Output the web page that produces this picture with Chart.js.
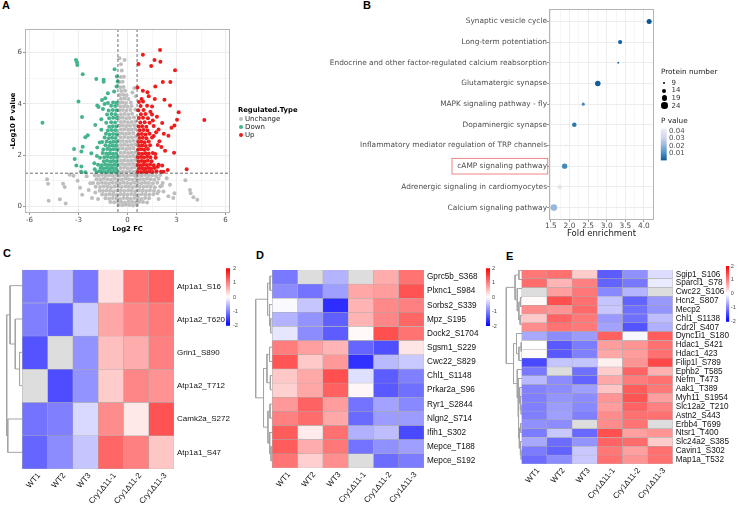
<!DOCTYPE html>
<html>
<head>
<meta charset="utf-8">
<title>Figure</title>
<script src="https://cdn.jsdelivr.net/npm/chart.js@4.4.1/dist/chart.umd.min.js"></script>
<style>
html,body{margin:0;padding:0;background:#fff;}
#fig{position:relative;width:738px;height:506px;overflow:hidden;background:#fff;}
#fig canvas{position:absolute;}
.tx{position:absolute;white-space:nowrap;font-family:"DejaVu Sans",sans-serif;}
.panel{position:absolute;font-family:"Liberation Sans",Arial,sans-serif;font-weight:bold;font-size:11px;line-height:11px;color:#000;}
.dot{position:absolute;border-radius:50%;}
</style>
</head>
<body>
<div id="fig">
  <div class="panel" style="left:2px;top:0px">A</div>
  <div class="panel" style="left:363px;top:0px">B</div>
  <div class="panel" style="left:3px;top:248px">C</div>
  <div class="panel" style="left:256px;top:250px">D</div>
  <div class="panel" style="left:506px;top:251px">E</div>
  <canvas id="cA" width="240" height="238" style="left:0px;top:0px"></canvas>
  <canvas id="cB" width="400" height="240" style="left:270px;top:0px"></canvas>
  <canvas id="cBbar" width="40" height="45" style="left:655px;top:122px"></canvas>
  <canvas id="cC" width="250" height="244" style="left:0px;top:262px"></canvas>
  <canvas id="cCbar" width="30" height="70" style="left:220px;top:262px"></canvas>
  <canvas id="cD" width="240" height="244" style="left:250px;top:262px"></canvas>
  <canvas id="cDbar" width="30" height="70" style="left:480px;top:262px"></canvas>
  <canvas id="cE" width="248" height="244" style="left:490px;top:262px"></canvas>
  <canvas id="cEbar" width="18" height="68" style="left:720px;top:260px"></canvas>
</div>
<script>
// ================= DATA =================
// Panel A: volcano plot (log2 FC, -log10 P)
const volcanoUp = [
[0.64,1.35],[0.82,1.35],[1.00,1.36],[1.18,1.35],[1.36,1.37],[1.55,1.35],[1.78,1.38],[2.05,1.36],
[0.70,1.48],[0.90,1.49],[1.08,1.47],[1.27,1.50],[1.45,1.48],[1.66,1.50],
[0.63,1.62],[0.80,1.61],[0.98,1.63],[1.17,1.62],[1.38,1.64],[1.60,1.61],[1.90,1.63],
[0.68,1.77],[0.87,1.78],[1.05,1.76],[1.24,1.79],[1.47,1.77],
[0.64,1.92],[0.83,1.93],[1.01,1.91],[1.20,1.94],[1.40,1.92],[1.72,1.90],
[0.70,2.07],[0.90,2.06],[1.10,2.08],[1.30,2.07],[1.55,2.09],
[0.65,2.22],[0.84,2.23],[1.03,2.21],[1.25,2.24],
[0.72,2.37],[0.92,2.38],[1.12,2.36],[1.38,2.39],[1.85,2.40],
[0.66,2.52],[0.85,2.53],[1.05,2.51],[1.30,2.54],
[0.73,2.67],[0.94,2.68],[1.16,2.66],[1.50,2.69],
[0.67,2.82],[0.88,2.83],[1.10,2.81],[1.35,2.84],
[0.75,2.97],[0.98,2.98],[1.22,2.96],
[0.68,3.12],[0.90,3.13],[1.15,3.11],[1.60,3.14],
[0.78,3.28],[1.05,3.29],[1.35,3.27],
[0.70,3.45],[0.95,3.46],[1.25,3.44],
[0.82,3.60],[1.10,3.61],[1.50,3.59],
[0.66,3.75],[0.98,3.76],
[0.80,3.92],[1.20,3.93],
[0.70,4.08],[0.95,4.09],
[1.50,3.90],[1.30,4.30],[1.80,3.50],[1.75,2.90],[1.95,2.55],[1.70,2.05],[1.60,2.75],[1.40,3.70],[1.90,3.00],[1.85,1.55],[1.55,3.35],
[1.99,6.10],[0.94,5.92],[1.65,5.71],[2.01,5.64],[0.67,5.56],[1.45,5.48],[2.91,5.31],[2.16,4.85],[2.62,4.85],[1.70,4.68],
[0.61,4.64],[0.94,4.51],[1.22,4.46],[1.67,4.19],[2.26,4.16],[0.86,4.19],[2.60,3.94],[3.13,3.68],[4.70,3.37],[3.03,3.38],
[2.87,3.16],[2.69,3.07],[2.12,3.26],[2.22,2.84],[2.50,2.76],[2.07,2.32],[2.30,2.18],[2.85,2.10],[2.12,1.60],[3.62,1.45],
[2.46,1.43],[2.20,1.36]
];
const volcanoDown = [
[-0.64,1.35],[-0.82,1.36],[-1.00,1.35],[-1.18,1.37],[-1.36,1.35],[-1.55,1.36],[-1.72,1.38],[-1.90,1.35],
[-0.70,1.48],[-0.90,1.49],[-1.08,1.47],[-1.27,1.50],[-1.46,1.48],[-1.65,1.50],
[-0.63,1.62],[-0.80,1.63],[-0.98,1.61],[-1.17,1.62],[-1.37,1.64],[-1.58,1.61],[-1.80,1.63],
[-0.68,1.77],[-0.87,1.78],[-1.05,1.76],[-1.25,1.79],[-1.45,1.77],
[-0.64,1.92],[-0.83,1.93],[-1.01,1.91],[-1.21,1.94],[-1.42,1.92],[-1.68,1.90],
[-0.70,2.07],[-0.90,2.06],[-1.10,2.08],[-1.30,2.07],[-1.52,2.09],
[-0.65,2.22],[-0.84,2.23],[-1.03,2.21],[-1.24,2.24],[-1.48,2.22],
[-0.72,2.37],[-0.92,2.38],[-1.12,2.36],[-1.35,2.39],
[-0.66,2.52],[-0.86,2.53],[-1.06,2.51],[-1.28,2.54],[-1.55,2.52],
[-0.73,2.67],[-0.94,2.68],[-1.15,2.66],[-1.40,2.69],
[-0.67,2.82],[-0.88,2.83],[-1.10,2.81],[-1.32,2.84],
[-0.75,2.97],[-0.97,2.98],[-1.20,2.96],[-1.60,2.99],
[-0.68,3.12],[-0.90,3.13],[-1.12,3.11],
[-0.76,3.28],[-1.00,3.29],[-1.30,3.27],
[-0.66,3.45],[-0.88,3.46],[-1.12,3.44],
[-0.74,3.60],[-0.98,3.61],[-1.25,3.59],
[-0.67,3.75],[-0.90,3.76],[-1.15,3.74],
[-0.75,3.92],[-1.00,3.93],
[-0.66,4.05],[-0.88,4.06],[-1.20,4.04],
[-0.65,5.07],[-0.60,4.87],[-0.67,4.68],[-0.82,4.48],[-1.20,4.42],[-1.36,4.22],[-1.56,4.15],[-1.77,3.88],[-1.97,3.18],
[-1.60,3.40],[-1.50,3.80],[-1.70,2.50],[-1.85,2.30],[-2.00,1.45],[-1.40,4.00],
[-5.20,3.27],[-3.15,5.71],[-3.09,5.62],[-3.07,5.52],[-2.74,5.16],[-3.00,4.09],[-2.78,3.49],[-1.91,4.97],[-1.46,4.94],
[-1.46,4.86],[-1.85,3.94],[-0.79,5.35],[-2.58,2.70],[-2.43,2.78],[-3.27,2.24],[-2.74,2.33],[-2.82,2.15],[-3.23,1.85],
[-3.13,1.60],[-2.82,1.56],[-2.84,1.36],[-2.58,1.34],[-2.21,2.08],[-2.03,1.69],[-1.87,1.97]
];
const volcanoUnchanged = [
[-0.50,1.35],[-0.29,1.36],[-0.08,1.35],[0.14,1.37],[0.35,1.35],[0.52,1.36],
[-0.42,1.50],[-0.20,1.51],[0.02,1.49],[0.24,1.50],[0.45,1.52],
[-0.51,1.65],[-0.30,1.66],[-0.09,1.64],[0.13,1.65],[0.34,1.66],[0.52,1.64],
[-0.40,1.80],[-0.19,1.81],[0.03,1.79],[0.25,1.80],[0.46,1.82],
[-0.50,1.95],[-0.28,1.96],[-0.07,1.94],[0.15,1.95],[0.36,1.97],[0.53,1.93],
[-0.41,2.10],[-0.18,2.11],[0.04,2.09],[0.26,2.10],[0.48,2.12],
[-0.52,2.25],[-0.30,2.26],[-0.08,2.24],[0.14,2.25],[0.37,2.27],
[-0.40,2.40],[-0.20,2.41],[0.03,2.39],[0.25,2.40],[0.47,2.42],
[-0.50,2.55],[-0.29,2.56],[-0.07,2.54],[0.15,2.55],[0.38,2.57],
[-0.42,2.70],[-0.19,2.71],[0.04,2.69],[0.27,2.70],[0.50,2.72],
[-0.51,2.85],[-0.30,2.86],[-0.09,2.84],[0.13,2.85],[0.36,2.87],
[-0.40,3.00],[-0.18,3.01],[0.04,2.99],[0.24,3.00],[0.46,3.02],
[-0.50,3.15],[-0.29,3.16],[-0.07,3.14],[0.15,3.15],[0.40,3.17],
[-0.41,3.30],[-0.20,3.31],[0.03,3.29],[0.26,3.30],[0.50,3.32],
[-0.50,3.45],[-0.30,3.46],[-0.08,3.44],[0.14,3.45],[0.40,3.47],
[-0.40,3.60],[-0.18,3.61],[0.05,3.59],[0.28,3.62],
[-0.50,3.75],[-0.29,3.76],[-0.07,3.74],[0.18,3.76],[0.48,3.78],
[-0.42,3.90],[-0.20,3.91],[0.02,3.89],[0.25,3.92],
[-0.50,4.05],[-0.30,4.06],[-0.09,4.04],[0.20,4.06],
[-0.40,4.20],[-0.18,4.21],[0.05,4.19],[0.50,4.30],
[-0.48,4.35],[-0.27,4.36],[-0.06,4.34],[0.30,4.45],
[-0.38,4.50],[-0.15,4.51],[0.42,4.62],
[-0.45,4.65],[-0.24,4.66],
[-0.50,4.85],[-0.30,4.86],
[-0.42,5.05],[-0.22,5.06],
[-0.35,5.30],[-0.40,5.55],[-0.49,5.78],[-0.18,5.71],
[-2.00,1.22],[-1.78,1.20],[-1.56,1.23],[-1.34,1.21],[-1.12,1.22],[-0.90,1.20],[-0.68,1.23],[-0.46,1.21],[-0.24,1.22],[-0.02,1.20],
[0.20,1.23],[0.42,1.21],[0.64,1.22],[0.86,1.20],[1.08,1.23],[1.30,1.21],[1.52,1.22],[1.75,1.19],[2.00,1.23],
[-1.90,1.07],[-1.67,1.06],[-1.45,1.08],[-1.23,1.07],[-1.01,1.05],[-0.79,1.08],[-0.57,1.07],[-0.35,1.06],[-0.13,1.08],
[0.09,1.07],[0.31,1.05],[0.53,1.08],[0.75,1.07],[0.97,1.06],[1.19,1.08],[1.41,1.07],[1.64,1.05],[1.90,1.08],
[-2.10,0.92],[-1.80,0.91],[-1.56,0.93],[-1.34,0.92],[-1.12,0.90],[-0.90,0.93],[-0.68,0.92],[-0.46,0.91],[-0.24,0.93],[-0.02,0.92],
[0.20,0.90],[0.42,0.93],[0.64,0.92],[0.86,0.91],[1.08,0.93],[1.30,0.92],[1.55,0.90],[1.82,0.93],[2.15,0.92],
[-1.95,0.77],[-1.68,0.76],[-1.45,0.78],[-1.23,0.77],[-1.01,0.75],[-0.79,0.78],[-0.57,0.77],[-0.35,0.76],[-0.13,0.78],
[0.09,0.77],[0.31,0.75],[0.53,0.78],[0.75,0.77],[0.97,0.76],[1.19,0.78],[1.42,0.77],[1.68,0.75],[2.00,0.78],
[-1.70,0.62],[-1.50,0.61],[-1.28,0.63],[-1.06,0.62],[-0.84,0.60],[-0.62,0.63],[-0.40,0.62],[-0.18,0.61],[0.04,0.63],
[0.26,0.62],[0.48,0.60],[0.70,0.63],[0.92,0.62],[1.14,0.61],[1.37,0.63],[1.62,0.62],[1.90,0.60],
[-1.55,0.47],[-1.32,0.46],[-1.10,0.48],[-0.88,0.47],[-0.66,0.45],[-0.44,0.48],[-0.22,0.47],[0.00,0.46],
[0.22,0.48],[0.44,0.47],[0.66,0.45],[0.88,0.48],[1.10,0.47],[1.33,0.46],[1.58,0.48],
[-1.35,0.32],[-1.12,0.31],[-0.90,0.33],[-0.68,0.32],[-0.46,0.30],[-0.24,0.33],[-0.02,0.32],
[0.20,0.31],[0.42,0.33],[0.64,0.32],[0.86,0.30],[1.08,0.33],[1.32,0.32],
[-1.05,0.18],[-0.82,0.17],[-0.60,0.19],[-0.38,0.18],[-0.16,0.16],[0.06,0.19],[0.28,0.18],[0.50,0.17],[0.72,0.19],[0.95,0.18],[1.20,0.16],
[-0.55,0.06],[-0.32,0.05],[-0.10,0.07],[0.12,0.06],[0.34,0.04],[0.58,0.07],
[-4.92,1.07],[-4.86,0.89],[-4.82,0.23],[-3.94,0.89],[-3.84,0.76],[-4.14,0.29],[-3.78,0.12],[-3.30,1.20],[-3.54,1.24],
[-3.05,1.01],[-2.90,0.73],[-2.77,0.46],[-2.28,0.91],[-2.37,0.65],[-2.17,0.33],[-1.97,0.55],[-2.50,1.18],[-1.80,0.30],
[3.54,1.03],[3.82,0.65],[3.86,0.52],[4.03,0.36],[4.27,0.27],[2.87,0.52],[2.80,0.33],[2.60,0.85],[2.10,0.81],[2.20,0.59],
[1.83,0.52],[2.40,1.10],[2.50,0.40],[1.90,0.30]
];
const fcCut = 0.585;          // |log2 FC| threshold
const pCut = 1.301;           // -log10(0.05)
const volcanoXTicks = [-6, -3, 0, 3, 6];
const volcanoXMinor = [-4.5, -1.5, 1.5, 4.5];
const volcanoYTicks = [0, 2, 4, 6];
const volcanoYMinor = [1, 3, 5];
const regulationTypes = ['Unchange', 'Down', 'Up'];

// Panel B: KEGG enrichment
const pathways = ['Synaptic vesicle cycle','Long-term potentiation','Endocrine and other factor-regulated calcium reabsorption',
  'Glutamatergic synapse','MAPK signaling pathway - fly','Dopaminergic synapse','Inflammatory mediator regulation of TRP channels',
  'cAMP signaling pathway','Adrenergic signaling in cardiomyocytes','Calcium signaling pathway'];
const foldEnrichment = [4.14, 3.36, 3.31, 2.76, 2.37, 2.13, 1.91, 1.87, 1.74, 1.58];
const proteinNumber  = [17, 14, 9, 19, 11, 15, 10, 18, 15, 24];
const pValue = [0.0003, 0.0025, 0.0045, 0.0015, 0.009, 0.006, 0.0436, 0.009, 0.039, 0.021];
const foldTicks = [1.5, 2.0, 2.5, 3.0, 3.5, 4.0];
const foldMinor = [1.75, 2.25, 2.75, 3.25, 3.75, 4.25];
const sizeLegend = [9, 14, 19, 24];
const pTicks = [0.01, 0.02, 0.03, 0.04];
const highlightPathway = 'cAMP signaling pathway';

// Panels C-E: heatmaps (row z-scores, null = missing)
const samples = ['WT1','WT2','WT3','Cry1Δ11-1','Cry1Δ11-2','Cry1Δ11-3'];
const heatTicks = [2, 1, 0, -1, -2];

const rowsC = ['Atp1a1_S16','Atp1a2_T620','Grin1_S890','Atp1a2_T712','Camk2a_S272','Atp1a1_S47'];
const valsC = [
 [-1.0,-0.5,-1.05,0.25,1.1,1.25],
 [-1.0,-1.25,-0.4,0.7,0.95,1.05],
 [-1.35,null,-0.85,0.5,0.65,1.0],
 [null,-1.4,-0.85,0.4,0.95,0.85],
 [-1.1,-1.0,-0.3,0.9,0.18,1.35],
 [-1.2,-0.9,-0.45,1.2,1.0,0.45]
];
const mergesC = [[2,3,0.16],[1,'m0',0.44],[0,'m1',0.78],[4,5,0.93],['m2','m3',1.0]];

const rowsD = ['Gprc5b_S368','Plxnc1_S984','Sorbs2_S339','Mpz_S195','Dock2_S1704','Sgsm1_S229','Cwc22_S829',
  'Chl1_S1148','Prkar2a_S96','Ryr1_S2844','Nlgn2_S714','Ifih1_S302','Mepce_T188','Mepce_S192'];
const valsD = [
 [-1.05,null,-0.6,null,0.65,1.1],
 [-0.9,-1.1,-0.75,0.7,0.78,1.35],
 [-0.05,-0.45,-1.65,0.6,0.93,1.0],
 [-0.6,-0.85,-1.25,0.6,0.95,1.2],
 [-0.2,-0.9,-1.28,0.05,1.38,1.1],
 [1.02,0.75,0.58,-1.2,-1.38,0.2],
 [1.33,0.42,0.8,-1.62,-0.55,-0.42],
 [0.43,0.68,1.38,-0.25,-1.28,-1.0],
 [0.37,0.7,1.25,0.06,-1.3,-1.12],
 [0.8,1.23,0.78,-1.1,-0.72,-0.93],
 [1.0,1.15,0.68,-1.17,-0.78,-0.78],
 [1.28,0.16,1.12,-0.62,-0.52,-1.43],
 [1.28,0.65,1.06,-1.1,-0.87,-0.75],
 [1.08,0.38,0.88,null,-1.15,-1.03]
];
const mergesD = [[0,1,0.12],[3,4,0.08],[2,'m1',0.15],['m0','m2',0.27],[5,6,0.15],[7,8,0.1],['m4','m5',0.31],
  [9,10,0.12],[12,13,0.06],[11,'m8',0.14],['m7','m9',0.25],['m6','m10',0.52],['m3','m11',1.0]];

const rowsE = ['Sgip1_S106','Sparcl1_S78','Cwc22_S106','Hcn2_S807','Mecp2','Chl1_S1138','Cdr2l_S407','Dync1i1_S180',
  'Hdac1_S421','Hdac1_423','Filip1l_S789','Ephb2_T585','Nefm_T473','Aak1_T389','Myh11_S1954','Slc12a2_T210',
  'Astn2_S443','Erbb4_T699','Ntsr1_T400','Slc24a2_S385','Cavin1_S302','Map1a_T532'];
const valsE = [
 [1.06,1.12,0.4,-1.28,-0.87,-0.27],
 [1.15,0.58,1.0,-1.22,-1.06,-0.16],
 [null,0.75,1.06,-0.93,-0.58,null],
 [0.04,1.38,1.12,-0.46,-1.22,-0.8],
 [0.9,0.84,1.18,-0.43,-1.12,-0.84],
 [0.42,1.22,1.06,-0.8,-1.12,-0.52],
 [0.9,1.1,1.05,-0.72,-1.34,-0.62],
 [-0.68,-0.9,-0.78,1.25,-0.06,1.28],
 [0.0,-1.3,-1.03,0.78,0.84,1.12],
 [0.03,-1.3,-1.0,0.7,0.78,1.12],
 [-1.43,-0.46,-0.46,0.12,0.84,1.43],
 [-1.05,null,-1.12,0.4,1.22,0.62],
 [-0.55,-0.9,-1.22,0.7,1.03,1.12],
 [-0.97,-0.9,-0.75,0.46,1.28,1.06],
 [-1.0,-0.84,-0.9,0.84,1.34,0.75],
 [-1.0,-0.78,-0.93,0.78,1.22,1.0],
 [-1.0,-0.75,-1.0,0.9,1.12,1.12],
 [-0.87,-0.9,null,0.9,1.1,null],
 [-1.03,-0.43,-1.18,1.38,0.75,0.84],
 [-0.68,-1.15,-0.84,1.22,1.15,0.4],
 [-1.03,-1.22,-0.43,1.06,0.75,1.12],
 [-1.15,-0.9,-0.43,1.12,0.84,1.12]
];
const mergesE = [[0,1,0.2],[3,4,0.1],[5,6,0.12],['m1','m2',0.2],[2,'m3',0.3],['m0','m4',0.44],
  [8,9,0.05],['m6',10,0.2],[7,'m7',0.35],[15,16,0.05],[14,'m9',0.1],[13,'m10',0.15],[17,18,0.08],[20,21,0.05],
  [19,'m13',0.1],['m12','m14',0.17],['m11','m15',0.22],[12,'m16',0.25],[11,'m17',0.3],['m8','m18',0.54],['m5','m19',1.0]];

// ================= HELPERS =================
Chart.defaults.font.family = "'DejaVu Sans', sans-serif";
Chart.defaults.animation = false;
Chart.defaults.responsive = false;

const GRAY = '#bebebe', GREEN = '#45b48d', RED = '#ee1c1c';
const fig = document.getElementById('fig');

function addText(txt, x, yc, size, opts) {
  opts = opts || {};
  const d = document.createElement('div');
  d.className = 'tx';
  d.textContent = txt;
  d.style.left = x + 'px';
  d.style.top = (yc - size * 0.6) + 'px';
  d.style.fontSize = size + 'px';
  d.style.lineHeight = (size * 1.2) + 'px';
  if (opts.bold) d.style.fontWeight = 'bold';
  d.style.color = opts.color || '#000';
  fig.appendChild(d);
}
function addDot(cx, cy, r, color) {
  const d = document.createElement('div');
  d.className = 'dot';
  d.style.left = (cx - r) + 'px';
  d.style.top = (cy - r) + 'px';
  d.style.width = (2 * r) + 'px';
  d.style.height = (2 * r) + 'px';
  d.style.background = color;
  fig.appendChild(d);
}
function hexToRgb(h) { return [parseInt(h.slice(1,3),16), parseInt(h.slice(3,5),16), parseInt(h.slice(5,7),16)]; }
function interpStops(stops, t) {
  t = Math.max(0, Math.min(1, t));
  for (let k = 1; k < stops.length; k++) {
    if (t <= stops[k][0]) {
      const [t0, c0] = stops[k-1], [t1, c1] = stops[k];
      const f = (t - t0) / (t1 - t0);
      const a = hexToRgb(c0), b = hexToRgb(c1);
      return 'rgb(' + a.map((v, i) => Math.round(v + (b[i] - v) * f)).join(',') + ')';
    }
  }
  return stops[stops.length-1][1];
}

const panelBorder = {
  id: 'panelBorder',
  afterDraw(chart) {
    const {ctx, chartArea: a} = chart;
    ctx.save();
    ctx.strokeStyle = '#b5b5b5';
    ctx.lineWidth = 1;
    ctx.strokeRect(Math.round(a.left) + 0.5, Math.round(a.top) + 0.5, Math.round(a.right - a.left) - 1, Math.round(a.bottom - a.top) - 1);
    ctx.restore();
  }
};

function ggScale(major, minor, fmt, extra) {
  const isMajor = v => major.some(m => Math.abs(m - v) < 1e-9);
  const base = {
    afterBuildTicks: s => { s.ticks = major.concat(minor).sort((a, b) => a - b).map(v => ({value: v})); },
    grid: {
      color: '#ebebeb',
      lineWidth: c => (c.tick && isMajor(c.tick.value)) ? 0.9 : 0.45,
      tickColor: c => (c.tick && isMajor(c.tick.value)) ? '#8a8a8a' : 'rgba(0,0,0,0)',
      tickLength: 2, drawTicks: true
    },
    border: {display: false}
  };
  const ticks = Object.assign({autoSkip: false, minRotation: 0, maxRotation: 0, color: '#4d4d4d',
    callback: v => isMajor(v) ? fmt(v) : ''}, extra.ticks || {});
  return Object.assign(base, extra, {ticks});
}

// ================= PANEL A =================
const thresholdLines = {
  id: 'thresholdLines',
  afterDatasetsDraw(chart) {
    const {ctx, chartArea: a, scales: {x, y}} = chart;
    ctx.save();
    ctx.beginPath(); ctx.rect(a.left, a.top, a.right - a.left, a.bottom - a.top); ctx.clip();
    ctx.beginPath();
    ctx.setLineDash([3, 2]);
    ctx.strokeStyle = '#4a4a4a';
    ctx.lineWidth = 0.8;
    [-fcCut, fcCut].forEach(v => { const px = x.getPixelForValue(v); ctx.moveTo(px, a.top); ctx.lineTo(px, a.bottom); });
    const py = y.getPixelForValue(pCut);
    ctx.moveTo(a.left, py); ctx.lineTo(a.right, py);
    ctx.stroke();
    ctx.restore();
  }
};
const toXY = arr => arr.map(([x, y]) => ({x, y}));
new Chart(document.getElementById('cA'), {
  type: 'scatter',
  data: { datasets: [
    {label: 'Up', data: toXY(volcanoUp), backgroundColor: RED, pointRadius: 2, borderWidth: 0},
    {label: 'Down', data: toXY(volcanoDown), backgroundColor: GREEN, pointRadius: 2, borderWidth: 0},
    {label: 'Unchange', data: toXY(volcanoUnchanged), backgroundColor: GRAY, pointRadius: 2, borderWidth: 0}
  ]},
  options: {
    layout: {padding: {left: 0, top: 29, right: 10, bottom: 0}},
    plugins: {legend: {display: false}, tooltip: {enabled: false}},
    scales: {
      x: ggScale(volcanoXTicks, volcanoXMinor, v => String(v), {
        type: 'linear', min: -6.27, max: 6.27,
        ticks: {padding: 1, font: {size: 7}},
        title: {display: true, text: 'Log2 FC', color: '#000', font: {size: 6.8, weight: 'bold'}, padding: {top: 0, bottom: 4.5}},
        afterFit: s => { s.height = 25; }
      }),
      y: ggScale(volcanoYTicks, volcanoYMinor, v => String(v), {
        type: 'linear', min: -0.25, max: 6.92,
        ticks: {padding: 1, font: {size: 7}},
        title: {display: true, text: '-Log10 P value', color: '#000', font: {size: 6.8, weight: 'bold'}, padding: {top: 9, bottom: 0}},
        afterFit: s => { s.width = 25; }
      })
    }
  },
  plugins: [panelBorder, thresholdLines]
});
// legend A
addText('Regulated.Type', 238, 110, 6.8, {bold: true});
const regColors = {Unchange: GRAY, Down: GREEN, Up: RED};
regulationTypes.forEach((t, k) => {
  const cy = 119.3 + k * 7.7;
  addDot(241, cy, 2, regColors[t]);
  addText(t, 245, cy, 7, {color: '#222'});
});

// ================= PANEL B =================
const pMin = Math.min(...pValue), pMax = Math.max(...pValue);
const pStops = [[0,'#0b5793'],[0.23,'#4a8fc4'],[0.46,'#93b5da'],[0.69,'#cdd3e8'],[1,'#f0eef6']];
const pColor = p => interpStops(pStops, (p - pMin) / (pMax - pMin));
const sizeOf = n => Math.sqrt(Math.max(0.3, 0.66 * (n - 7.4)));

const highlightBox = {
  id: 'highlightBox',
  afterDraw(chart) {
    const i = pathways.indexOf(highlightPathway);
    const y = chart.scales.y.getPixelForValue(i);
    const ctx = chart.ctx;
    ctx.save();
    ctx.font = "7.4px 'DejaVu Sans'";
    const w = ctx.measureText(highlightPathway).width;
    const right = chart.chartArea.left - 1.3;
    const left = right - w - 6;
    ctx.strokeStyle = '#ee8585';
    ctx.lineWidth = 1;
    ctx.strokeRect(left, y - 7.8, right - left, 15.6);
    ctx.restore();
  }
};
new Chart(document.getElementById('cB'), {
  type: 'bubble',
  data: { datasets: [{
    data: pathways.map((p, i) => ({x: foldEnrichment[i], y: i, r: sizeOf(proteinNumber[i])})),
    backgroundColor: pValue.map(pColor), borderWidth: 0, hoverRadius: 0
  }]},
  options: {
    layout: {padding: {left: 0, top: 9, right: 16, bottom: 0}},
    plugins: {legend: {display: false}, tooltip: {enabled: false}},
    scales: {
      x: ggScale(foldTicks, foldMinor, v => v.toFixed(1), {
        type: 'linear', min: 1.45, max: 4.27,
        ticks: {padding: 0, font: {size: 7.4}},
        title: {display: true, text: 'Fold enrichment', color: '#1a1a1a', font: {size: 8.5}, padding: {top: 0, bottom: 1.6}},
        afterFit: s => { s.height = 20; }
      }),
      y: ggScale(pathways.map((p, i) => i), [], v => pathways[Math.round(v)], {
        type: 'linear', min: -0.6, max: pathways.length - 0.4, reverse: true,
        ticks: {padding: 0, font: {size: 7.4}},
        afterFit: s => { s.width = 279; }
      })
    }
  },
  plugins: [panelBorder, highlightBox]
});
// legend B
addText('Protein number', 661, 72, 7.3, {color: '#1a1a1a'});
sizeLegend.forEach((n, k) => {
  const cy = 83 + k * 7.6;
  addDot(664.3, cy, sizeOf(n), '#000');
  addText(String(n), 671.5, cy, 7, {color: '#333'});
});
addText('P value', 661, 121, 7.3, {color: '#1a1a1a'});

// ================= COLORBARS =================
function drawColorbar(id, cfg) {
  new Chart(document.getElementById(id), {
    type: 'bar',
    data: { labels: [''], datasets: [{
      data: [[cfg.min, cfg.max]], borderWidth: 0, barPercentage: 1, categoryPercentage: 1,
      backgroundColor: c => {
        const ch = c.chart;
        if (!ch.chartArea) return cfg.stops[0][1];
        const y = ch.scales.y;
        const g = ch.ctx.createLinearGradient(0, y.getPixelForValue(cfg.min), 0, y.getPixelForValue(cfg.max));
        cfg.stops.forEach(([t, col]) => g.addColorStop(t, col));
        return g;
      }
    }]},
    options: {
      layout: {padding: cfg.pad},
      plugins: {legend: {display: false}, tooltip: {enabled: false}},
      scales: {
        x: {display: false},
        y: {
          min: cfg.min, max: cfg.max, position: 'right',
          grid: {display: false, drawTicks: false}, border: {display: false},
          afterBuildTicks: s => { s.ticks = cfg.ticks.map(v => ({value: v})); },
          ticks: {autoSkip: false, padding: cfg.tickPad, color: cfg.color, font: cfg.font, callback: cfg.fmt},
          afterFit: s => { s.width = cfg.yw; }
        }
      }
    }
  });
}
drawColorbar('cBbar', {min: pMin, max: pMax, ticks: pTicks, fmt: v => v.toFixed(2), stops: pStops,
  pad: {left: 5.7, top: 6, right: 0, bottom: 6}, yw: 28.3, tickPad: 2.3, color: '#4d4d4d',
  font: {size: 7, family: "'DejaVu Sans', sans-serif"}});

const heatStops = [[0, '#0000ff'], [0.5, '#ffffff'], [1, '#ff0000']];
const hbFont = {size: 5.5, family: "'Liberation Sans', Arial, sans-serif"};
drawColorbar('cCbar', {min: -2, max: 2, ticks: heatTicks, fmt: v => String(v), stops: heatStops,
  pad: {left: 6, top: 6.3, right: 0, bottom: 6}, yw: 20, tickPad: 3, color: '#444', font: hbFont});
drawColorbar('cDbar', {min: -2, max: 2, ticks: heatTicks, fmt: v => String(v), stops: heatStops,
  pad: {left: 6, top: 6.3, right: 0, bottom: 6}, yw: 20, tickPad: 2, color: '#444', font: hbFont});
drawColorbar('cEbar', {min: -2, max: 2, ticks: heatTicks, fmt: v => String(v), stops: heatStops,
  pad: {left: 6, top: 6, right: 0, bottom: 6.3}, yw: 8.7, tickPad: 1.5, color: '#444', font: hbFont});

// ================= HEATMAPS =================
function heatColor(v) {
  if (v === null) return '#dddddd';
  const t = Math.min(Math.abs(v) / 2, 1);
  const c = Math.round(255 * (1 - t));
  return v < 0 ? 'rgb(' + c + ',' + c + ',255)' : 'rgb(255,' + c + ',' + c + ')';
}
function dendroPoints(merges, span) {
  const nodes = [], pts = [];
  const node = r => typeof r === 'number' ? {y: r, h: 0} : nodes[+r.slice(1)];
  merges.forEach(([a, b, h]) => {
    const A = node(a), B = node(b);
    pts.push({x: -A.h * span, y: A.y}, {x: -h * span, y: A.y}, {x: -h * span, y: B.y}, {x: -B.h * span, y: B.y}, {x: null, y: null});
    nodes.push({y: (A.y + B.y) / 2, h});
  });
  return pts;
}
function drawHeatmap(id, rows, vals, merges, g) {
  const canvas = document.getElementById(id);
  const W = canvas.width, H = canvas.height;
  const nC = samples.length;
  const colW = (g.areaR - g.heatL) / nC;
  const xmin = -(g.heatL - g.areaL) / colW;
  const labFont = {size: g.rowFont, family: "'Liberation Sans', Arial, sans-serif"};
  new Chart(canvas, {
    type: 'bar',
    data: {
      labels: rows,
      datasets: samples.map((s, j) => ({
        label: s, data: rows.map(() => 1),
        backgroundColor: rows.map((r, i) => heatColor(vals[i][j])),
        borderColor: '#ababab', borderWidth: 0.5, borderSkipped: false,
        barPercentage: 1, categoryPercentage: 1, grouped: false
      }))
    },
    options: {
      indexAxis: 'y',
      layout: {padding: {left: g.areaL, top: g.areaT, right: 0, bottom: 0}},
      plugins: {legend: {display: false}, tooltip: {enabled: false}},
      scales: {
        x: {
          type: 'linear', stacked: true, min: xmin, max: nC, position: 'bottom',
          grid: {display: false, drawTicks: false}, border: {display: false},
          afterBuildTicks: s => { s.ticks = samples.map((_, j) => ({value: j + 0.5})); },
          ticks: {autoSkip: false, minRotation: 50, maxRotation: 50, padding: 2, labelOffset: 4, color: '#111',
            font: {size: 8, family: "'Liberation Sans', Arial, sans-serif"},
            callback: v => samples[Math.round(v - 0.5)]},
          afterFit: s => { s.height = H - g.areaB; }
        },
        y: {
          type: 'category', stacked: true, position: 'right',
          grid: {display: false, drawTicks: false}, border: {display: false},
          ticks: {autoSkip: false, padding: 3, color: '#111', font: labFont},
          afterFit: s => { s.width = W - g.areaR; }
        }
      }
    }
  });
  // dendrogram: own canvas directly left of the heat cells
  const dw = Math.round(g.heatL - g.areaL), dh = Math.round(g.areaB - g.areaT);
  const dc = document.createElement('canvas');
  dc.width = dw; dc.height = dh;
  dc.style.left = (parseFloat(canvas.style.left) + g.heatL - dw) + 'px';
  dc.style.top = (parseFloat(canvas.style.top) + g.areaT) + 'px';
  fig.appendChild(dc);
  const span = g.heatL - g.rootL;
  new Chart(dc, {
    type: 'scatter',
    data: { datasets: [{
      data: dendroPoints(merges, span), showLine: true, borderColor: '#a4a4a4', borderWidth: 1,
      pointRadius: 0, fill: false, spanGaps: false, tension: 0
    }]},
    options: {
      layout: {padding: 0},
      plugins: {legend: {display: false}, tooltip: {enabled: false}},
      scales: {
        x: {type: 'linear', display: false, min: -dw, max: 0},
        y: {type: 'linear', display: false, min: -0.5, max: rows.length - 0.5, reverse: true}
      }
    }
  });
}
drawHeatmap('cC', rowsC, valsC, mergesC, {areaL: 6, rootL: 7, heatL: 22.3, areaR: 174, areaT: 7, areaB: 207, rowFont: 8});
drawHeatmap('cD', rowsD, valsD, mergesD, {areaL: 5, rootL: 6, heatL: 22.3, areaR: 174, areaT: 7.3, areaB: 206, rowFont: 8.2});
drawHeatmap('cE', rowsE, valsE, mergesE, {areaL: 15, rootL: 16, heatL: 31.7, areaR: 182.7, areaT: 4, areaB: 202, rowFont: 8.2});
</script>
</body>
</html>
